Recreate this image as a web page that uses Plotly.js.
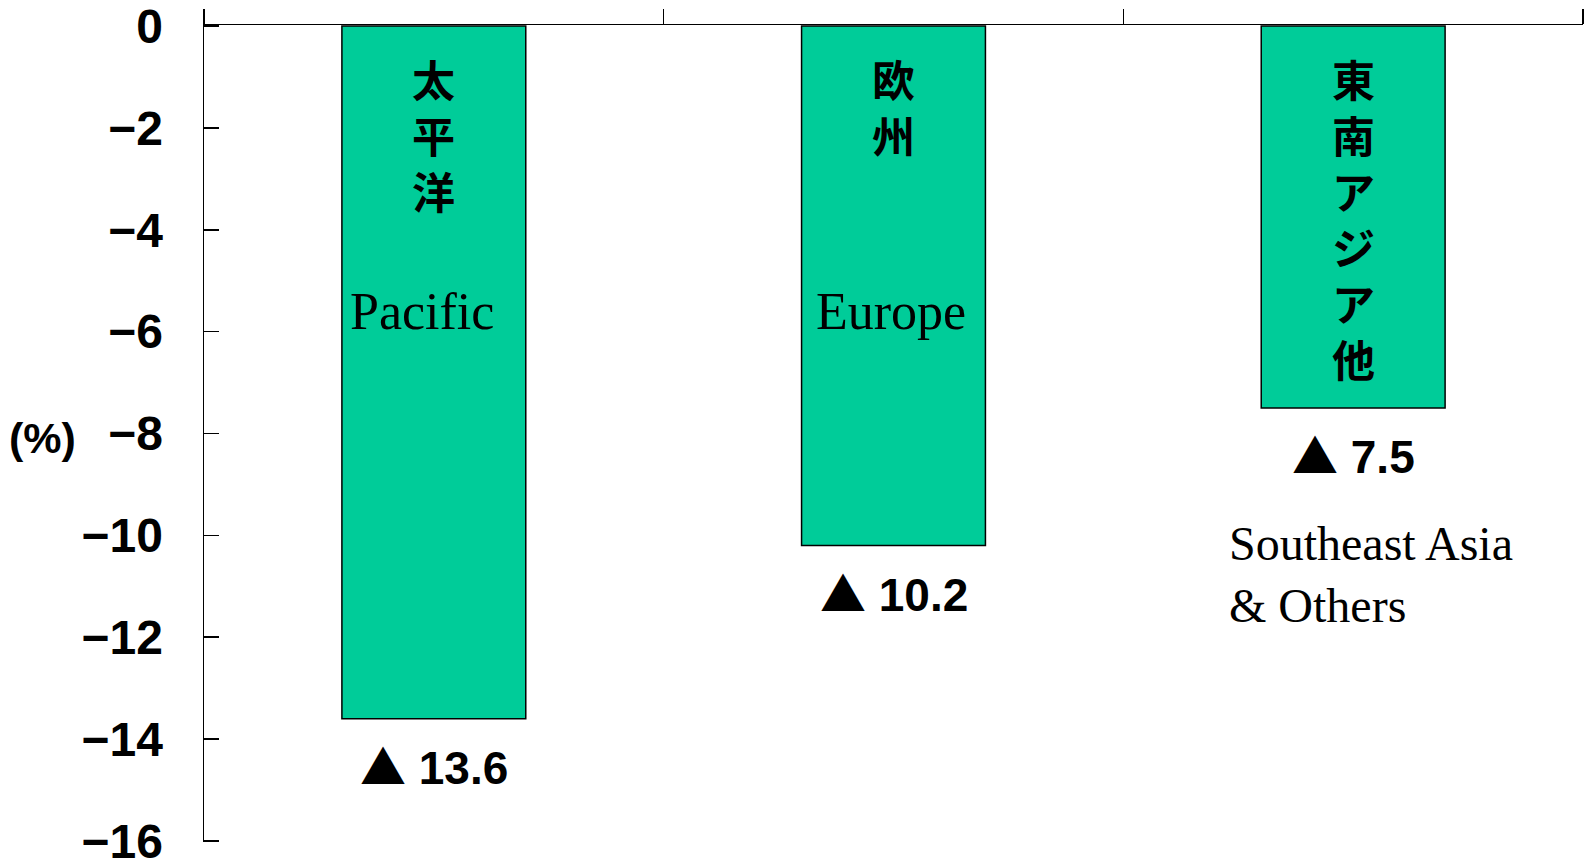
<!DOCTYPE html>
<html>
<head>
<meta charset="utf-8">
<script src="https://cdn.plot.ly/plotly-3.0.1.min.js"></script>
<style>
  html, body { margin: 0; padding: 0; background: #ffffff; }
  #chart { width: 1588px; height: 865px; }
</style>
</head>
<body>
<div id="chart"></div>
<script>
// ---- data ----
const categories = ["Pacific", "Europe", "Southeast Asia & Others"];
const values = [-13.6, -10.2, -7.5];
const jaLabels = ["太平洋", "欧州", "東南アジア他"];
const enLabels = ["Pacific", "Europe", "Southeast Asia<br>& Others"];
const yTicks = [0, -2, -4, -6, -8, -10, -12, -14, -16];
const unitLabel = "(%)";
const negMark = "▲";

// ---- styles ----
const BAR_COLOR = "#00CC99";
const NARROW = "'Liberation Sans Narrow', 'Liberation Sans', 'DejaVu Sans', sans-serif";
const CJK = "'Noto Sans CJK JP', sans-serif";
const SERIF = "'Liberation Serif', 'Times New Roman', serif";

const xIdx = categories.map((_, i) => i);

const trace = {
  type: "bar",
  x: xIdx,
  y: values,
  width: 0.4,
  marker: { color: BAR_COLOR, line: { color: "#000000", width: 1.5 } },
  hoverinfo: "skip"
};

const annotations = [];
xIdx.forEach((i) => {
  // vertical Japanese label
  annotations.push({
    x: i, y: 0, xref: "x", yref: "y",
    text: jaLabels[i].split("").join("<br>"),
    showarrow: false, xanchor: "center", yanchor: "top", yshift: -19,
    font: { family: CJK, size: 43, color: "#000000", weight: "bold" }
  });
  // value label below bar
  annotations.push({
    x: i, y: values[i], xref: "x", yref: "y",
    text: '<span style="font-family:\'Noto Sans CJK JP\'">' + negMark + '</span> ' + Math.abs(values[i]).toFixed(1),
    showarrow: false, xanchor: "center", yanchor: "middle", yshift: -45,
    font: { family: NARROW, size: 46, color: "#000000", weight: "bold", stretch: "condensed" }
  });
});
// English labels
annotations.push({
  x: 0, y: 0, xref: "x", yref: "y", text: enLabels[0],
  showarrow: false, xanchor: "center", yanchor: "middle", yshift: -285, xshift: -12,
  font: { family: SERIF, size: 52, color: "#000000" }
});
annotations.push({
  x: 1, y: 0, xref: "x", yref: "y", text: enLabels[1],
  showarrow: false, xanchor: "center", yanchor: "middle", yshift: -285, xshift: -3,
  font: { family: SERIF, size: 52, color: "#000000" }
});
annotations.push({
  x: 2, y: 0, xref: "x", yref: "y", text: enLabels[2],
  showarrow: false, xanchor: "left", align: "left", yanchor: "middle", yshift: -548, xshift: -126,
  font: { family: SERIF, size: 48, color: "#000000" }
});
// unit label
annotations.push({
  x: 0, y: -8, xref: "paper", yref: "y", text: unitLabel,
  showarrow: false, xanchor: "center", yanchor: "middle", xshift: -162, yshift: -4,
  font: { family: NARROW, size: 43, color: "#000000", weight: "bold", stretch: "condensed" }
});

const layout = {
  width: 1588, height: 865,
  margin: { l: 204, r: 5, t: 25, b: 23, pad: 0 },
  paper_bgcolor: "#ffffff", plot_bgcolor: "#ffffff",
  showlegend: false,
  xaxis: {
    range: [-0.5, 2.5], side: "top",
    showline: true, linecolor: "#000000", linewidth: 1.5,
    ticks: "outside", ticklen: 15, tickwidth: 1.5, tickcolor: "#000000",
    tickmode: "array", tickvals: [-0.5, 0.5, 1.5, 2.5],
    showticklabels: false, showgrid: false, zeroline: false, fixedrange: true
  },
  yaxis: {
    range: [-16.02, 0.02],
    showline: true, linecolor: "#000000", linewidth: 1.5,
    ticks: "inside", ticklen: 15, tickwidth: 1.5, tickcolor: "#000000",
    tickmode: "array", tickvals: yTicks,
    ticklabelstandoff: 30,
    ticklabeloverflow: "allow",
    tickfont: { family: NARROW, size: 48, color: "#000000", weight: "bold", stretch: "condensed" },
    showgrid: false, zeroline: false, fixedrange: true
  },
  annotations: annotations
};

Plotly.newPlot("chart", [trace], layout, { displayModeBar: false, staticPlot: true });
</script>
</body>
</html>
